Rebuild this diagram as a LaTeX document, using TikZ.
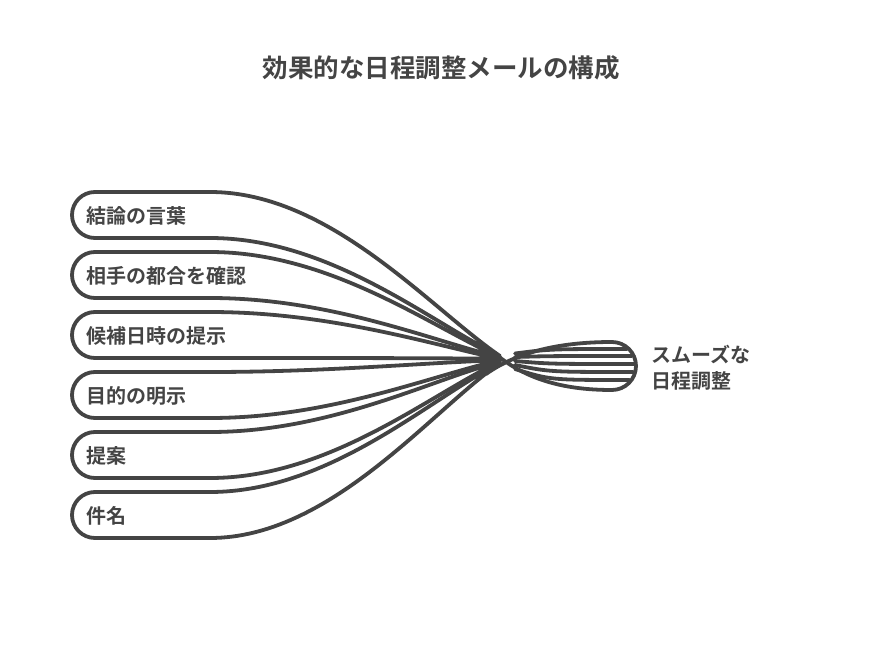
\documentclass[tikz,border=0pt]{standalone}
\usepackage{fontspec}
\setmainfont{Noto Sans CJK JP}[BoldFont={Noto Sans CJK JP Bold}]
\definecolor{ink}{HTML}{444444}
\tikzstyle{band}=[draw=ink, line width=3.8pt, line cap=round, line join=round]
\tikzstyle{lbl}=[text=ink, font=\fontsize{20}{24}\selectfont\bfseries, anchor=west, inner sep=0pt]

\begin{document}
\begin{tikzpicture}[x=1pt, y=-1pt]
\useasboundingbox (0,0) rectangle (877,660);
% Title
    \node[text=ink, font=\fontsize{25.5}{30}\selectfont\bfseries] (title) at (441,68) {効果的な日程調整メールの構成};
% Bands
    \foreach \txt [count=\i from 0] in {結論の言葉, 相手の都合を確認, 候補日時の提示, 目的の明示, 提案, 件名} {
        \pgfmathsetmacro{\t}{192+60*\i}
        \pgfmathsetmacro{\b}{238+60*\i}
        \pgfmathsetmacro{\ct}{\t+0.7*(358-\t)}
        \pgfmathsetmacro{\cb}{\b+0.7*(358-\b)}
        \pgfmathsetmacro{\ce}{356+1.4*\i}
        \draw[band] (500,\ce) .. controls (430,\ct) and (330,\t) .. (210,\t) -- (95,\t)
            arc[start angle=-90, end angle=-270, radius=23]
            -- (210,\b) .. controls (330,\b) and (430,\cb) .. (500,\ce);
        \node[lbl] (l\i) at (86,{(\t+\b)/2+1}) {\txt};
    }
% Bundle
    \draw[band] (486,374) .. controls (520,350) and (565,342) .. (612,342)
        arc[start angle=-90, end angle=90, radius=24]
        .. controls (565,390) and (528,380) .. (498,356);
    \foreach \y in {349,356,364,372,380} {
        \pgfmathsetmacro{\xe}{612+sqrt(576-(\y-366)*(\y-366))-2}
        \draw[band] (515,{358+0.5*(\y-358)}) .. controls (550,\y) .. (\xe,\y);
    }
% Result
    \node[lbl, align=left, font=\fontsize{20}{26}\selectfont\bfseries] (result) at (651,368) {スムーズな\\日程調整};
\end{tikzpicture}
\end{document}
